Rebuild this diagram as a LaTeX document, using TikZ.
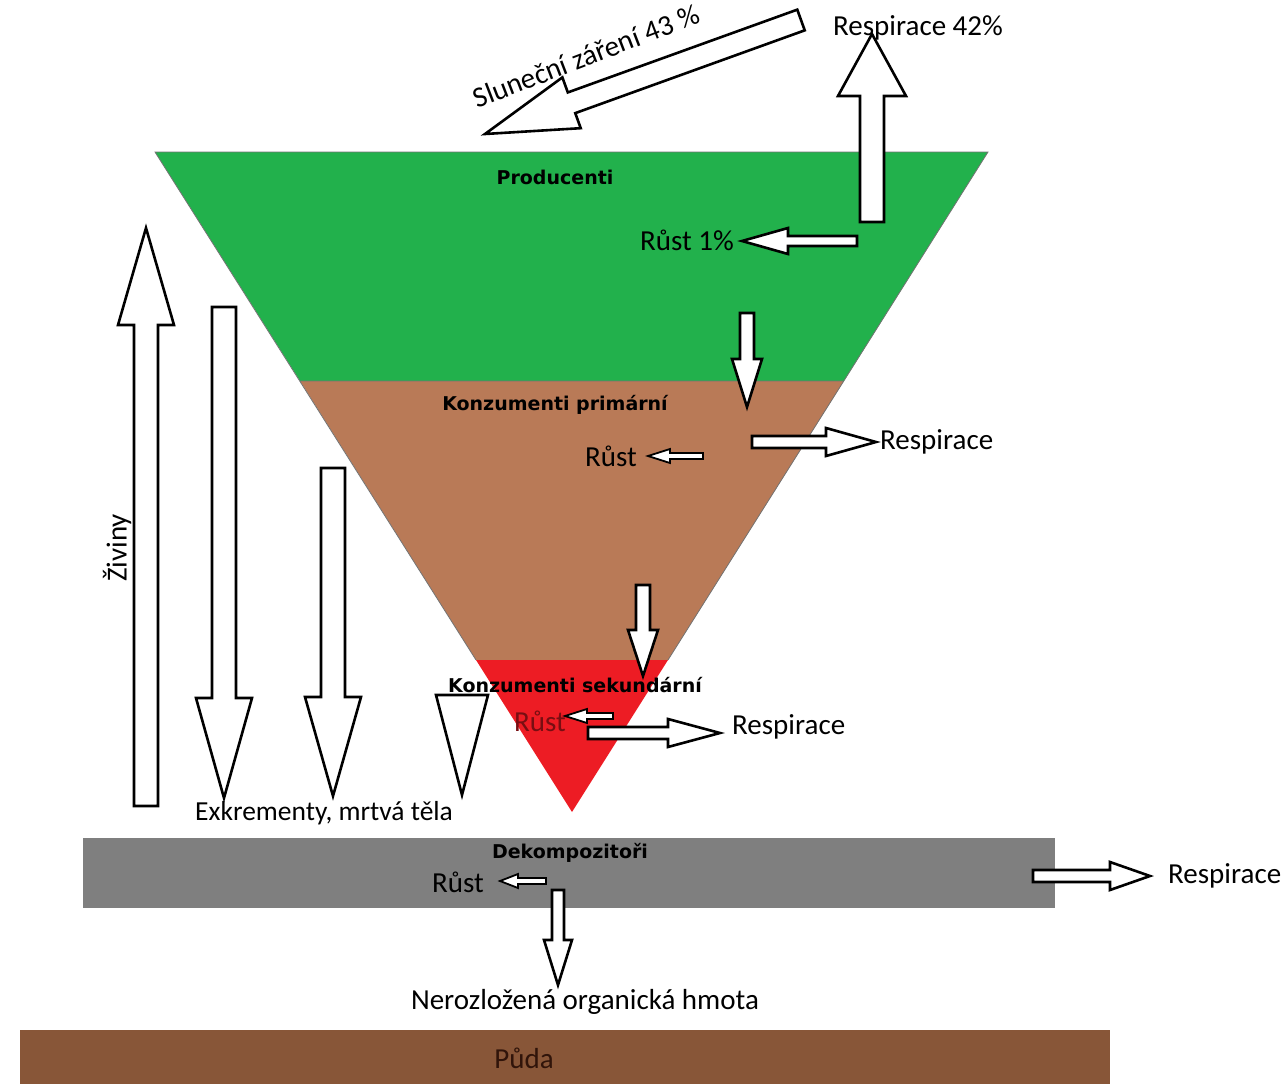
\documentclass[tikz,border=0pt]{standalone}
\usepackage{fontspec}
\setmainfont{Carlito}
\newfontfamily\labelfont{DejaVu Sans}
\usetikzlibrary{calc}

\definecolor{prodgreen}{RGB}{34,177,76}
\definecolor{primbrown}{RGB}{185,122,87}
\definecolor{sekred}{RGB}{237,28,36}
\definecolor{dekgray}{RGB}{127,127,127}
\definecolor{soil}{RGB}{136,86,56}
\definecolor{sekrust}{RGB}{120,14,18}
\definecolor{soiltext}{RGB}{48,20,10}

\tikzset{
  flow/.style={draw=black, fill=white, line width=2.6pt, line join=miter},
  thinflow/.style={line width=1.8pt},
  txt/.style={font=\fontsize{29}{34}\selectfont, inner sep=0pt},
  lbl/.style={font=\labelfont\bfseries\fontsize{19}{23}\selectfont, inner sep=0pt},
}

% block arrow: [style] from, to, shaft half width, head half width, head length
\newcommand{\blockarrow}[6][]{%
  \coordinate (hb) at ($(#3)!#6!(#2)$);
  \draw[flow,#1] ($(#2)!#4!90:(#3)$) -- ($(hb)!#4!90:(#3)$) -- ($(hb)!#5!90:(#3)$)
    -- (#3) -- ($(hb)!#5!-90:(#3)$) -- ($(hb)!#4!-90:(#3)$) -- ($(#2)!#4!-90:(#3)$) -- cycle;
}

\begin{document}
\begin{tikzpicture}[x=1pt,y=-1pt]
\useasboundingbox (0,0) rectangle (1286,1084);

% trophic pyramid
\fill[prodgreen] (155,152) -- (988,152) -- (844,381) -- (300,381) -- cycle;
\fill[primbrown] (300,381) -- (844,381) -- (668,660) -- (476,660) -- cycle;
\fill[sekred] (476,660) -- (668,660) -- (572,812) -- cycle;
\draw[black!55, line width=0.8pt] (476,660) -- (155,152) -- (988,152) -- (668,660)
  (300,381) -- (844,381);

% decomposers and soil
\fill[dekgray] (83,838) rectangle (1055,908);
\fill[soil] (20,1030) rectangle (1110,1084);

% arrows
\coordinate (sunT) at (801,20);    \coordinate (sunH) at (485,134);
\coordinate (resp0T) at (872,222); \coordinate (resp0H) at (872,34);
\coordinate (grow0T) at (857,241); \coordinate (grow0H) at (742,241);
\coordinate (eat1T) at (747,313);  \coordinate (eat1H) at (747,407);
\coordinate (grow1T) at (703,456); \coordinate (grow1H) at (648,456);
\coordinate (resp1T) at (752,442); \coordinate (resp1H) at (876,442);
\coordinate (eat2T) at (643,585);  \coordinate (eat2H) at (643,676);
\coordinate (grow2T) at (613,716); \coordinate (grow2H) at (565,716);
\coordinate (resp2T) at (588,733); \coordinate (resp2H) at (720,733);
\coordinate (nutT) at (146,806);   \coordinate (nutH) at (146,228);
\coordinate (dead1T) at (224,307); \coordinate (dead1H) at (224,798);
\coordinate (dead2T) at (333,468); \coordinate (dead2H) at (333,796);
\coordinate (dead3T) at (462,695); \coordinate (dead3H) at (462,795);
\coordinate (grow3T) at (546,881); \coordinate (grow3H) at (500,881);
\coordinate (restT) at (558,890);  \coordinate (restH) at (558,985);
\coordinate (resp3T) at (1033,876);\coordinate (resp3H) at (1150,876);

\blockarrow{sunT}{sunH}{11pt}{27pt}{92pt}
\blockarrow{resp0T}{resp0H}{12pt}{34pt}{62pt}
\blockarrow{grow0T}{grow0H}{5pt}{13pt}{46pt}
\blockarrow{eat1T}{eat1H}{7pt}{15pt}{48pt}
\blockarrow[thinflow]{grow1T}{grow1H}{3pt}{7pt}{22pt}
\blockarrow{resp1T}{resp1H}{6pt}{14pt}{50pt}
\blockarrow{eat2T}{eat2H}{7pt}{15pt}{46pt}
\blockarrow[thinflow]{grow2T}{grow2H}{3pt}{7pt}{22pt}
\blockarrow{resp2T}{resp2H}{6pt}{14pt}{52pt}
\blockarrow{nutT}{nutH}{12pt}{28pt}{97pt}
\blockarrow{dead1T}{dead1H}{12pt}{28pt}{100pt}
\blockarrow{dead2T}{dead2H}{12pt}{28pt}{99pt}
\blockarrow{dead3T}{dead3H}{0pt}{26pt}{100pt}
\blockarrow[thinflow]{grow3T}{grow3H}{3pt}{7pt}{18pt}
\blockarrow{restT}{restH}{6pt}{14pt}{45pt}
\blockarrow{resp3T}{resp3H}{6pt}{14pt}{40pt}

% labels
\node[lbl] (prod) at (555,177) {Producenti};
\node[lbl] (prim) at (555,405) {Konzumenti primární};
\node[lbl] (sek) at (575,685) {Konzumenti sekundární};
\node[lbl] (dek) at (570,853) {Dekompozitoři};

\node[txt, rotate=21] (sun) at (586,56) {Sluneční záření 43 \%};
\node[txt, anchor=west] (resp0) at (833,28) {Respirace 42\%};
\node[txt] (grow0) at (687,240) {Růst 1\%};
\node[txt] (grow1) at (611,456) {Růst};
\node[txt, anchor=west] (resp1) at (880,442) {Respirace};
\node[txt, text=sekrust] (grow2) at (540,721) {Růst};
\node[txt, anchor=west] (resp2) at (732,727) {Respirace};
\node[txt, rotate=90] (nut) at (117,548) {Živiny};
\node[txt, font=\fontsize{27.5}{32}\selectfont] (dead) at (324,813) {Exkrementy, mrtvá těla};
\node[txt] (grow3) at (458,882) {Růst};
\node[txt, anchor=west] (resp3) at (1168,876) {Respirace};
\node[txt] (rest) at (585,1002) {Nerozložená organická hmota};
\node[txt, text=soiltext] (soiltxt) at (524,1058) {Půda};
\end{tikzpicture}
\end{document}
